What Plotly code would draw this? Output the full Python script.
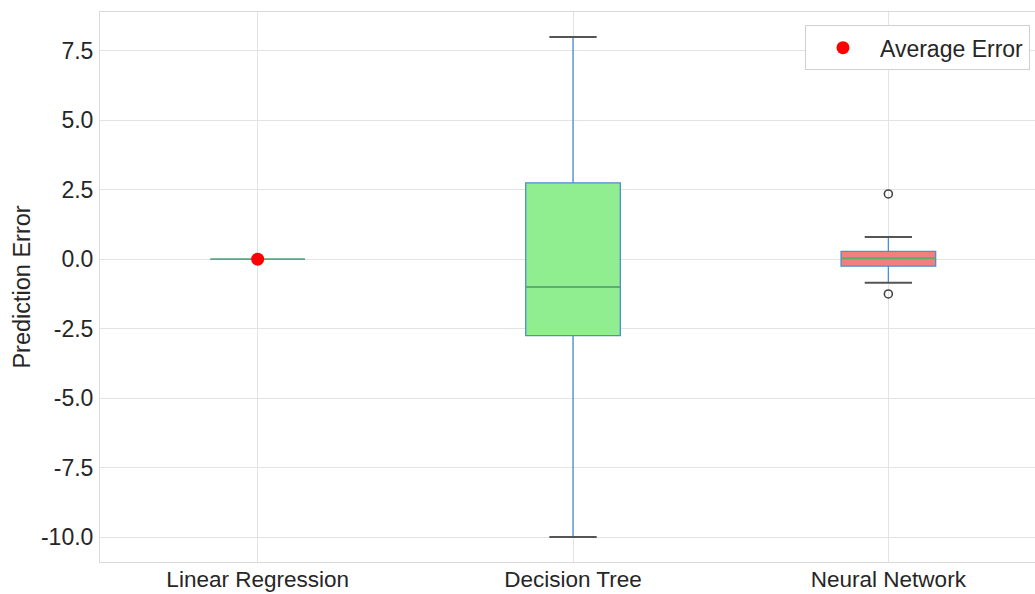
import plotly.graph_objects as go

# ---- data ----
models = ["Linear Regression", "Decision Tree", "Neural Network"]
q1 = [0.0, -2.75, -0.25]
medians = [0.0, -1.0, 0.03]
q3 = [0.0, 2.75, 0.28]
lower_whisker = [0.0, -10.0, -0.85]
upper_whisker = [0.0, 8.0, 0.80]
box_fills = ["#add8e6", "#90ee90", "#f08080"]
outlier_model = [2, 2]
outlier_values = [2.35, -1.25]
mean_model = [0]
mean_values = [0.0]
y_ticks = [-10.0, -7.5, -5.0, -2.5, 0.0, 2.5, 5.0, 7.5]

positions = list(range(len(models)))
BOX_W = 0.3
CAP_W = 0.15
EDGE = "#4c8ed0"
MED = "#5cae5c"
CAP = "#555555"
FONT = "Liberation Sans, Arial, sans-serif"

fig = go.Figure()

for p, name, a, m, b, lo, hi, fc in zip(positions, models, q1, medians, q3,
                                         lower_whisker, upper_whisker, box_fills):
    fig.add_trace(go.Box(
        x=[p], q1=[a], median=[m], q3=[b], lowerfence=[lo], upperfence=[hi],
        width=BOX_W, fillcolor=fc, line=dict(color=EDGE, width=1.3),
        whiskerwidth=0, boxpoints=False, showlegend=False, name=name,
        hoverinfo="skip",
    ))

# caps
cx, cy = [], []
for p, lo, hi in zip(positions, lower_whisker, upper_whisker):
    if lo == hi:
        continue
    for v in (lo, hi):
        cx += [p - CAP_W / 2, p + CAP_W / 2, None]
        cy += [v, v, None]
fig.add_trace(go.Scatter(x=cx, y=cy, mode="lines", line=dict(color=CAP, width=2),
                         showlegend=False, hoverinfo="skip"))

# medians
mx, my = [], []
for p, m in zip(positions, medians):
    mx += [p - BOX_W / 2, p + BOX_W / 2, None]
    my += [m, m, None]
fig.add_trace(go.Scatter(x=mx, y=my, mode="lines", line=dict(color=MED, width=1.6),
                         showlegend=False, hoverinfo="skip"))

# outliers
fig.add_trace(go.Scatter(x=outlier_model, y=outlier_values, mode="markers",
                         marker=dict(symbol="circle-open", size=8, color="#444444",
                                     line=dict(width=1.6)),
                         showlegend=False, hoverinfo="skip"))

# mean
fig.add_trace(go.Scatter(x=mean_model, y=mean_values, mode="markers",
                         marker=dict(color="red", size=13), name="Average Error"))

fig.update_layout(
    width=1035, height=594,
    margin=dict(l=100, r=0, t=12, b=32, autoexpand=False),
    paper_bgcolor="white", plot_bgcolor="white",
    font=dict(family=FONT, size=23, color="#262626"),
    legend=dict(x=0.754, y=0.976, xanchor="left", yanchor="top",
                bgcolor="white", bordercolor="#d0d0d0", borderwidth=1,
                font=dict(size=23), itemwidth=64),
)
fig.update_xaxes(
    range=[-0.5, 2.465], tickvals=positions, ticktext=models,
    showgrid=True, gridcolor="#e3e3e3", gridwidth=1, zeroline=False,
    showline=True, linecolor="#d9d9d9", mirror=True, ticks="", ticklen=0,
    automargin=False, ticklabelstandoff=-3, tickfont=dict(size=22.5),
)
fig.update_yaxes(
    range=[-10.9, 8.9], tickvals=y_ticks,
    ticktext=[f"{v:.1f}" for v in y_ticks],
    showgrid=True, gridcolor="#e3e3e3", gridwidth=1, zeroline=False,
    showline=True, linecolor="#d9d9d9", mirror=True, ticks="",
    automargin=False, ticklabelstandoff=1,
    title=dict(text="Prediction Error", standoff=3, font=dict(size=23.5)),
)

fig.write_html(
    "out.html",
    config={"displayModeBar": False},
    post_script="document.body.style.margin='0';document.body.style.padding='0';",
)
